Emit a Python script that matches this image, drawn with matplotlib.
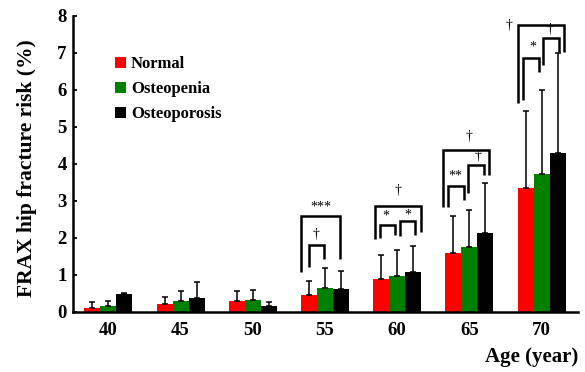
import matplotlib
matplotlib.use("Agg")
import matplotlib.pyplot as plt
import numpy as np

ages = ["40", "45", "50", "55", "60", "65", "70"]
groups = ["Normal", "Osteopenia", "Osteoporosis"]
colors = ["#ff0000", "#008000", "#000000"]

normal_mean = [0.12, 0.21, 0.30, 0.47, 0.89, 1.60, 3.35]
normal_top = [0.26, 0.41, 0.57, 0.84, 1.53, 2.58, 5.42]
osteopenia_mean = [0.17, 0.30, 0.33, 0.64, 0.97, 1.75, 3.72]
osteopenia_top = [0.30, 0.56, 0.59, 1.19, 1.67, 2.76, 5.98]
osteoporosis_mean = [0.48, 0.39, 0.17, 0.62, 1.07, 2.13, 4.29]
osteoporosis_top = [0.50, 0.82, 0.27, 1.11, 1.77, 3.48, 7.00]

means = [normal_mean, osteopenia_mean, osteoporosis_mean]
tops = [normal_top, osteopenia_top, osteoporosis_top]

# significance brackets: (age index, left x offset, right x offset, top y, left leg bottom, right leg bottom)
brackets = [
    (3, -0.335, 0.209, 2.60, 1.09, 1.42),
    (3, -0.220, -0.008, 1.80, 1.22, 1.42),
    (4, -0.300, 0.337, 2.87, 1.96, 2.17),
    (4, -0.240, -0.024, 2.35, 1.99, 2.08),
    (4, 0.036, 0.253, 2.46, 2.05, 2.08),
    (5, -0.368, 0.277, 4.37, 2.84, 3.70),
    (5, -0.299, -0.069, 3.40, 2.84, 3.02),
    (5, -0.022, 0.208, 3.96, 3.20, 3.70),
    (6, -0.330, 0.316, 7.74, 5.65, 7.02),
    (6, -0.260, -0.030, 6.85, 5.72, 6.48),
    (6, 0.017, 0.247, 7.38, 6.66, 7.02),
]
# significance marks: (age index, x offset, y, text)
marks = [
    (3, -0.063, 2.84, "***"),
    (3, -0.120, 2.10, "\u2020"),
    (4, 0.014, 3.27, "\u2020"),
    (4, -0.150, 2.60, "*"),
    (4, 0.152, 2.62, "*"),
    (5, 0.000, 4.73, "\u2020"),
    (5, -0.200, 3.67, "**"),
    (5, 0.116, 4.19, "\u2020"),
    (6, -0.450, 7.72, "\u2020"),
    (6, -0.120, 7.16, "*"),
    (6, 0.118, 7.61, "\u2020"),
]

plt.rcParams['font.family'] = ['Liberation Serif', 'DejaVu Serif']

fig = plt.figure(figsize=(5.85, 3.72), dpi=100)
ax = fig.add_axes([73/585, 1-312/372, (578-73)/585, (312-15.5)/372])

x = np.arange(len(ages))
w = 0.222
handles = []
for i, (g, c) in enumerate(zip(groups, colors)):
    xs = x + (i - 1) * w
    m = np.array(means[i])
    t = np.array(tops[i])
    b = ax.bar(xs, m, width=w, color=c, label=g, zorder=2)
    handles.append(b)
    ax.errorbar(xs, m, yerr=[np.zeros_like(m), t - m], fmt='none',
                ecolor='black', elinewidth=1.1, capsize=2, capthick=1.1, zorder=3)

for gi, xl, xr, top, yl, yr in brackets:
    cx = x[gi]
    ax.plot([cx + xl, cx + xl, cx + xr, cx + xr], [yl, top, top, yr],
            color='black', lw=1.8, solid_joinstyle='miter', solid_capstyle='butt', zorder=4)

for gi, xo, y, s in marks:
    ax.text(x[gi] + xo, y, s, ha='center', va='center', fontsize=10, zorder=5)

ax.set_xlim(-0.49, 6.505)
ax.set_ylim(0, 8)
ax.set_xticks(x)
ax.set_xticklabels(ages, fontsize=13.5, fontweight='bold')
ax.set_yticks(range(0, 9))
ax.set_yticklabels([str(v) for v in range(0, 9)], fontsize=13.5, fontweight='bold')
ax.tick_params(axis='x', length=0, pad=7)
ax.tick_params(axis='y', direction='in', length=3, width=1.3, pad=4.5)
for s in ['top', 'right']:
    ax.spines[s].set_visible(False)
for s in ['left', 'bottom']:
    ax.spines[s].set_linewidth(1.8)

ax.set_ylabel("FRAX hip fracture risk (%)", fontsize=15.5, fontweight='bold')
ax.yaxis.set_label_coords(-0.071, 0.486)
fig.text(578/585, 1-357/372, "Age (year)", ha='right', va='center',
         fontsize=15, fontweight='bold')

leg = ax.legend(handles=handles, loc='upper left', bbox_to_anchor=(115/585, 1-56/372),
                bbox_transform=fig.transFigure, frameon=False, borderaxespad=0,
                borderpad=0, handlelength=0.65, handleheight=0.65, handletextpad=0.3,
                labelspacing=0.55, prop={'weight': 'bold', 'size': 12})

fig.savefig("out.png", dpi=100)
